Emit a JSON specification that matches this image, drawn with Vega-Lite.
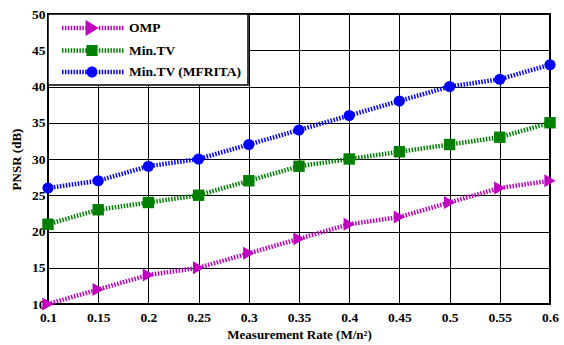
{
  "$schema": "https://vega.github.io/schema/vega-lite/v6.json",
  "width": 502,
  "height": 290,
  "autosize": {"type": "none"},
  "padding": {"left": 48, "top": 14, "right": 14, "bottom": 41},
  "background": "white",
  "config": {
    "view": {"stroke": "black", "strokeWidth": 2},
    "font": "'Liberation Serif', 'Times New Roman', serif",
    "legend": {"strokeWidth": 1.5},
    "axis": {
      "domain": false,
      "ticks": false,
      "grid": true,
      "gridColor": "black",
      "gridOpacity": 1,
      "gridWidth": 1,
      "labelFont": "'Liberation Serif', 'Times New Roman', serif",
      "labelFontWeight": "bold",
      "labelFontSize": 13.5,
      "labelColor": "black",
      "labelFlush": false,
      "labelOverlap": false,
      "titleFont": "'Liberation Serif', 'Times New Roman', serif",
      "titleFontWeight": "bold",
      "titleFontSize": 13,
      "titleColor": "black"
    }
  },
  "data": {
    "values": [
      {"rate": 0.1, "psnr": 10, "method": "OMP"},
      {"rate": 0.15, "psnr": 12, "method": "OMP"},
      {"rate": 0.2, "psnr": 14, "method": "OMP"},
      {"rate": 0.25, "psnr": 15, "method": "OMP"},
      {"rate": 0.3, "psnr": 17, "method": "OMP"},
      {"rate": 0.35, "psnr": 19, "method": "OMP"},
      {"rate": 0.4, "psnr": 21, "method": "OMP"},
      {"rate": 0.45, "psnr": 22, "method": "OMP"},
      {"rate": 0.5, "psnr": 24, "method": "OMP"},
      {"rate": 0.55, "psnr": 26, "method": "OMP"},
      {"rate": 0.6, "psnr": 27, "method": "OMP"},
      {"rate": 0.1, "psnr": 21, "method": "Min.TV"},
      {"rate": 0.15, "psnr": 23, "method": "Min.TV"},
      {"rate": 0.2, "psnr": 24, "method": "Min.TV"},
      {"rate": 0.25, "psnr": 25, "method": "Min.TV"},
      {"rate": 0.3, "psnr": 27, "method": "Min.TV"},
      {"rate": 0.35, "psnr": 29, "method": "Min.TV"},
      {"rate": 0.4, "psnr": 30, "method": "Min.TV"},
      {"rate": 0.45, "psnr": 31, "method": "Min.TV"},
      {"rate": 0.5, "psnr": 32, "method": "Min.TV"},
      {"rate": 0.55, "psnr": 33, "method": "Min.TV"},
      {"rate": 0.6, "psnr": 35, "method": "Min.TV"},
      {"rate": 0.1, "psnr": 26, "method": "Min.TV (MFRITA)"},
      {"rate": 0.15, "psnr": 27, "method": "Min.TV (MFRITA)"},
      {"rate": 0.2, "psnr": 29, "method": "Min.TV (MFRITA)"},
      {"rate": 0.25, "psnr": 30, "method": "Min.TV (MFRITA)"},
      {"rate": 0.3, "psnr": 32, "method": "Min.TV (MFRITA)"},
      {"rate": 0.35, "psnr": 34, "method": "Min.TV (MFRITA)"},
      {"rate": 0.4, "psnr": 36, "method": "Min.TV (MFRITA)"},
      {"rate": 0.45, "psnr": 38, "method": "Min.TV (MFRITA)"},
      {"rate": 0.5, "psnr": 40, "method": "Min.TV (MFRITA)"},
      {"rate": 0.55, "psnr": 41, "method": "Min.TV (MFRITA)"},
      {"rate": 0.6, "psnr": 43, "method": "Min.TV (MFRITA)"}
    ]
  },
  "encoding": {
    "x": {
      "field": "rate",
      "type": "quantitative",
      "scale": {"domain": [0.1, 0.6], "nice": false, "zero": false},
      "axis": {
        "values": [0.1, 0.15, 0.2, 0.25, 0.3, 0.35, 0.4, 0.45, 0.5, 0.55, 0.6],
        "format": ".2~f",
        "title": "Measurement Rate (M/n²)",
        "labelPadding": 6,
        "titlePadding": 5
      }
    },
    "y": {
      "field": "psnr",
      "type": "quantitative",
      "scale": {"domain": [10, 50], "nice": false, "zero": false},
      "axis": {
        "values": [10, 15, 20, 25, 30, 35, 40, 45, 50],
        "title": "PNSR (dB)",
        "labelPadding": 3,
        "titlePadding": 8
      }
    }
  },
  "layer": [
    {
      "mark": {"type": "point", "filled": true, "opacity": 1, "fillOpacity": 1, "size": 0.0001},
      "encoding": {
        "color": {
          "field": "method",
          "type": "nominal",
          "scale": {
            "domain": ["OMP", "Min.TV", "Min.TV (MFRITA)"],
            "range": ["#c000c0", "#008000", "#0000ff"]
          },
          "legend": {
            "title": null,
            "orient": "none",
            "legendX": 0,
            "legendY": 0,
            "padding": 6,
            "rowPadding": 6.5,
            "fillColor": "white",
            "strokeColor": "black",
            "symbolSize": 256,
            "symbolOpacity": 1,
            "symbolStrokeWidth": 0,
            "labelOffset": 59,
            "labelFont": "'Liberation Serif', 'Times New Roman', serif",
            "labelFontSize": 13.5,
            "labelFontWeight": "bold",
            "labelColor": "black",
            "labelLimit": 300
          }
        },
        "shape": {
          "field": "method",
          "type": "nominal",
          "scale": {
            "domain": ["OMP", "Min.TV", "Min.TV (MFRITA)"],
            "range": [
              "M0,-0.27h0.1875v0.54h-0.1875ZM0.3625,-0.27h0.1875v0.54h-0.1875ZM0.725,-0.27h0.1875v0.54h-0.1875ZM1.0875,-0.27h0.1875v0.54h-0.1875ZM1.45,-0.27h0.1875v0.54h-0.1875ZM1.8125,-0.27h0.1875v0.54h-0.1875ZM2.175,-0.27h0.1875v0.54h-0.1875ZM2.5375,-0.27h0.1875v0.54h-0.1875ZM2.9,-0.27h0.1875v0.54h-0.1875ZM4.6,-0.27h0.1875v0.54h-0.1875ZM4.9625,-0.27h0.1875v0.54h-0.1875ZM5.325,-0.27h0.1875v0.54h-0.1875ZM5.6875,-0.27h0.1875v0.54h-0.1875ZM6.05,-0.27h0.1875v0.54h-0.1875ZM6.4125,-0.27h0.1875v0.54h-0.1875ZM6.775,-0.27h0.1875v0.54h-0.1875ZM7.1375,-0.27h0.1875v0.54h-0.1875ZM7.5,-0.27h0.1875v0.54h-0.1875ZM2.95,-1L4.6,0L2.95,1Z",
              "M0,-0.27h0.1875v0.54h-0.1875ZM0.3625,-0.27h0.1875v0.54h-0.1875ZM0.725,-0.27h0.1875v0.54h-0.1875ZM1.0875,-0.27h0.1875v0.54h-0.1875ZM1.45,-0.27h0.1875v0.54h-0.1875ZM1.8125,-0.27h0.1875v0.54h-0.1875ZM2.175,-0.27h0.1875v0.54h-0.1875ZM2.5375,-0.27h0.1875v0.54h-0.1875ZM2.9,-0.27h0.1875v0.54h-0.1875ZM4.6,-0.27h0.1875v0.54h-0.1875ZM4.9625,-0.27h0.1875v0.54h-0.1875ZM5.325,-0.27h0.1875v0.54h-0.1875ZM5.6875,-0.27h0.1875v0.54h-0.1875ZM6.05,-0.27h0.1875v0.54h-0.1875ZM6.4125,-0.27h0.1875v0.54h-0.1875ZM6.775,-0.27h0.1875v0.54h-0.1875ZM7.1375,-0.27h0.1875v0.54h-0.1875ZM7.5,-0.27h0.1875v0.54h-0.1875ZM3.05,-0.7h1.4v1.4h-1.4Z",
              "M0,-0.27h0.1875v0.54h-0.1875ZM0.3625,-0.27h0.1875v0.54h-0.1875ZM0.725,-0.27h0.1875v0.54h-0.1875ZM1.0875,-0.27h0.1875v0.54h-0.1875ZM1.45,-0.27h0.1875v0.54h-0.1875ZM1.8125,-0.27h0.1875v0.54h-0.1875ZM2.175,-0.27h0.1875v0.54h-0.1875ZM2.5375,-0.27h0.1875v0.54h-0.1875ZM2.9,-0.27h0.1875v0.54h-0.1875ZM4.6,-0.27h0.1875v0.54h-0.1875ZM4.9625,-0.27h0.1875v0.54h-0.1875ZM5.325,-0.27h0.1875v0.54h-0.1875ZM5.6875,-0.27h0.1875v0.54h-0.1875ZM6.05,-0.27h0.1875v0.54h-0.1875ZM6.4125,-0.27h0.1875v0.54h-0.1875ZM6.775,-0.27h0.1875v0.54h-0.1875ZM7.1375,-0.27h0.1875v0.54h-0.1875ZM7.5,-0.27h0.1875v0.54h-0.1875ZM3.06,0A0.69,0.69 0 1,0 4.44,0A0.69,0.69 0 1,0 3.06,0Z"
            ]
          }
        }
      }
    },
    {
      "transform": [{"filter": "datum.method === 'OMP'"}],
      "mark": {"type": "line", "color": "#c000c0", "strokeWidth": 4.5, "strokeDash": [1.5, 1.5]}
    },
    {
      "transform": [{"filter": "datum.method === 'OMP'"}],
      "mark": {"type": "point", "shape": "triangle-right", "filled": true, "opacity": 1, "color": "#c000c0", "size": 170}
    },
    {
      "transform": [{"filter": "datum.method === 'Min.TV'"}],
      "mark": {"type": "line", "color": "#008000", "strokeWidth": 4.5, "strokeDash": [1.5, 1.5]}
    },
    {
      "transform": [{"filter": "datum.method === 'Min.TV'"}],
      "mark": {"type": "point", "shape": "square", "filled": true, "opacity": 1, "color": "#008000", "size": 130}
    },
    {
      "transform": [{"filter": "datum.method === 'Min.TV (MFRITA)'"}],
      "mark": {"type": "line", "color": "#0000ff", "strokeWidth": 4.5, "strokeDash": [1.5, 1.5]}
    },
    {
      "transform": [{"filter": "datum.method === 'Min.TV (MFRITA)'"}],
      "mark": {"type": "point", "shape": "circle", "filled": true, "opacity": 1, "color": "#0000ff", "size": 125}
    }
  ]
}
